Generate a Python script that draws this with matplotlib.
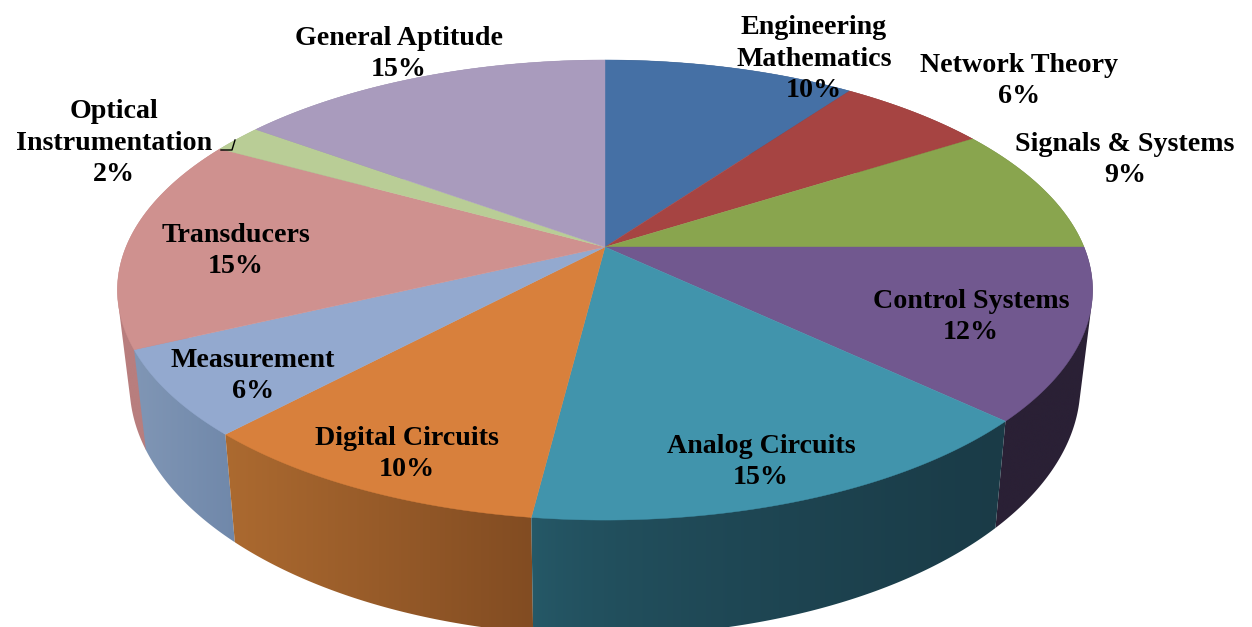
import numpy as np
import matplotlib
matplotlib.use("Agg")
import matplotlib.pyplot as plt
from matplotlib.colors import to_rgb
from matplotlib.patches import Polygon

# Data
categories = ["Engineering\nMathematics", "Network Theory", "Signals & Systems",
              "Control Systems", "Analog Circuits", "Digital Circuits",
              "Measurement", "Transducers", "Optical\nInstrumentation",
              "General Aptitude"]
percent = [10, 6, 9, 12, 15, 10, 6, 15, 2, 15]

# Styles
top_colors = ["#4570a5", "#a64442", "#89a54e", "#71588f", "#4194ac",
              "#d8803c", "#93a9cf", "#cf918f", "#b9cd96", "#a99bbd"]
wall_left = ["#2f4a6d", "#6e2d2c", "#5b6d34", "#2a2035", "#265a69",
             "#ac6a30", "#8096b5", "#b87e7e", "#a0b080", "#8c80a0"]
wall_right = ["#2f4a6d", "#6e2d2c", "#5b6d34", "#2a2035", "#1a3b47",
              "#824c22", "#7088aa", "#b87e7e", "#a0b080", "#8c80a0"]
wall_power = [1, 1, 1, 1, 0.6, 1, 1, 1, 1, 1]

# Label centres in pixels
label_x = [814, 1019, 1125, 971, 761, 407, 253, 236, 114, 399]
label_y = [59, 81, 160, 317, 462, 454, 376, 251, 143, 54]

# Perspective of the pie in image pixels
cx, cy = 605, 247
rx, ry = 479, 222
tilt = 0.187
wall_drop = 91
wall_sx = 0.975
wall_sy = 1.09


def top_edge(theta):
    u = np.sin(theta)
    v = -np.cos(theta)
    w = 1 - tilt * v
    return cx + rx * u / w, cy + ry * v / w


def bottom_edge(theta):
    u = np.sin(theta)
    v = -np.cos(theta)
    w = 1 - tilt * v
    return cx + wall_sx * rx * u / w, cy + wall_drop + wall_sy * ry * v / w


def hull(points):
    # convex outline of the wall, so the side silhouette has no notch
    pts = sorted(map(tuple, points))

    def half(seq):
        out = []
        for p in seq:
            while len(out) > 1:
                a, b = out[-2], out[-1]
                if (b[0] - a[0]) * (p[1] - a[1]) - (b[1] - a[1]) * (p[0] - a[0]) > 0:
                    break
                out.pop()
            out.append(p)
        return out[:-1]

    return np.array(half(pts) + half(pts[::-1]))


fig = plt.figure(figsize=(12.52, 6.27), dpi=100)
ax = fig.add_axes([0, 0, 1, 1])

edges = np.cumsum([0] + percent) / sum(percent) * 2 * np.pi
mids = (edges[:-1] + edges[1:]) / 2

# Side walls: a horizontal gradient image clipped to the outline of each slice
# Back slices first, so nearer walls sit on top
for i in np.argsort(-np.cos(mids)):
    angles = np.linspace(edges[i], edges[i + 1], 200)
    x1, y1 = top_edge(angles)
    x2, y2 = bottom_edge(angles)
    outline = hull(np.column_stack([np.r_[x1, x2], np.r_[y1, y2]]))
    c0 = np.array(to_rgb(wall_left[i]))
    c1 = np.array(to_rgb(wall_right[i]))
    t = np.linspace(0, 1, 256) ** wall_power[i]
    gradient = (c0[None, :] + (c1 - c0)[None, :] * t[:, None])[None, :, :]
    img = ax.imshow(gradient, aspect="auto", interpolation="bilinear", zorder=2,
                    extent=[outline[:, 0].min(), outline[:, 0].max(),
                            outline[:, 1].max(), outline[:, 1].min()])
    clip = Polygon(outline, closed=True, transform=ax.transData)
    img.set_clip_path(clip)

# Top face
for i in range(len(percent)):
    angles = np.linspace(edges[i], edges[i + 1], 120)
    x, y = top_edge(angles)
    ax.fill(np.r_[cx, x], np.r_[cy, y], facecolor=top_colors[i],
            edgecolor=top_colors[i], linewidth=0.3, zorder=3)

# Leader line of the small slice
ax.plot([221, 232, 235], [150, 150, 140], color="black", linewidth=1, zorder=4)

# Labels
for i in range(len(percent)):
    ax.text(label_x[i], label_y[i], f"{categories[i]}\n{percent[i]}%",
            ha="center", va="center", multialignment="center",
            family="Liberation Serif", fontweight="bold", fontsize=20.2,
            linespacing=1.32, color="black", zorder=5)

ax.set_xlim(0, 1252)
ax.set_ylim(627, 0)
ax.axis("off")

fig.savefig("out.png", dpi=100)
